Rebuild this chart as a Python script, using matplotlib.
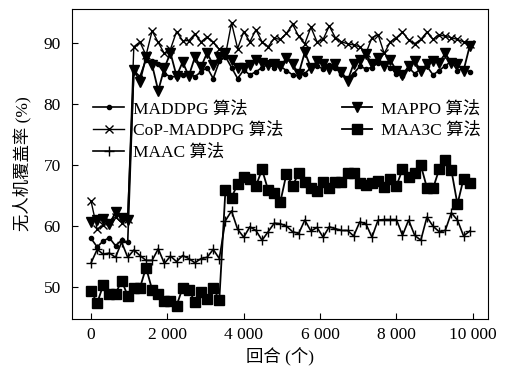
import numpy as np
import matplotlib
matplotlib.use('Agg')
import matplotlib.pyplot as plt

plt.rcParams['font.family'] = ['Liberation Serif', 'Noto Sans CJK SC']
plt.rcParams['font.size'] = 12.5

# episodes (one point every 160)
episodes = np.arange(0, 10000, 160)

maddpg = [58.0, 56.6, 57.6, 58.1, 56.8, 57.7, 57.4,
          85.5, 84.5, 87.3, 87.0, 86.5, 85.0, 84.5, 84.5, 84.8, 85.0, 84.5, 85.3,
          86.0, 84.2, 87.0, 87.8, 86.0, 84.2, 85.6, 84.8, 85.3, 86.0, 86.5, 86.0, 86.2,
          85.5, 84.8, 84.6, 85.0, 86.0, 86.2, 85.8, 86.4, 86.0, 85.0, 84.2, 85.0,
          86.2, 85.8, 86.0, 86.8, 86.5, 86.0, 85.0, 84.6, 86.0, 85.0, 85.8, 86.2,
          84.8, 85.5, 86.3, 87.0, 85.5, 85.8, 85.3]

cop_maddpg = [64.1, 59.5, 60.2, 60.8, 61.5, 60.6, 61.2,
              89.4, 90.2, 88.0, 92.0, 90.1, 88.3, 89.0, 91.9, 90.4, 90.4, 91.5, 90.2,
              91.0, 90.1, 89.0, 88.0, 93.3, 89.1, 91.9, 90.2, 92.2, 90.2, 89.4, 90.8, 90.6,
              91.6, 93.1, 91.1, 89.9, 92.6, 90.2, 90.6, 92.8, 90.9, 90.2, 89.9, 89.7,
              89.4, 88.3, 90.9, 91.4, 88.3, 90.2, 90.9, 91.8, 90.5, 89.9, 90.6, 91.8,
              90.6, 91.4, 91.1, 90.9, 90.6, 90.2, 89.9]

maac = [54.0, 56.2, 55.4, 55.6, 54.9, 57.4, 54.9, 56.1, 55.2, 54.4, 54.4, 56.3,
        53.9, 55.1, 54.2, 55.2, 54.7, 54.0, 54.7, 54.9, 56.2, 54.7,
        60.9, 62.5, 59.5, 58.2, 59.9, 59.3, 57.7, 59.1, 60.5, 60.4,
        60.0, 59.1, 58.8, 61.0, 59.2, 59.8, 58.2, 59.9, 59.6, 59.3, 59.3, 58.4,
        60.7, 60.4, 58.2, 61.0, 61.1, 61.1, 61.1, 58.5, 61.0, 58.5, 57.7, 61.5,
        60.0, 59.1, 59.3, 62.2, 61.0, 58.4, 59.2]

mappo = [60.7, 61.0, 61.2, 60.3, 62.3, 61.3, 61.0,
         85.6, 83.7, 87.7, 86.4, 82.2, 85.9, 88.4, 84.6, 86.9, 84.6, 87.7, 86.1,
         88.4, 86.4, 87.7, 88.3, 87.2, 86.0, 86.0, 86.4, 87.2, 86.8, 86.4, 86.6, 86.2,
         87.5, 86.5, 85.0, 88.5, 86.0, 87.0, 86.6, 85.8, 86.6, 85.2, 83.8, 86.6,
         87.2, 88.2, 86.6, 87.6, 86.2, 87.2, 85.5, 84.8, 86.2, 87.0, 85.5, 86.5,
         87.0, 86.8, 88.3, 86.8, 86.5, 85.5, 89.5]

maa3c = [49.4, 47.4, 50.4, 48.9, 48.9, 51.1, 48.6, 49.9, 49.9, 53.2, 49.6, 48.9,
         47.8, 47.8, 47.0, 49.9, 49.6, 47.6, 49.2, 48.1, 49.9, 47.9,
         65.9, 64.7, 66.9, 68.0, 67.7, 66.6, 69.3, 65.9, 65.5, 64.0,
         68.6, 66.6, 68.7, 67.3, 66.2, 65.8, 67.2, 66.2, 67.3, 67.3, 68.7, 68.7,
         67.1, 66.8, 67.1, 67.4, 66.4, 67.7, 66.6, 69.3, 68.1, 68.7, 70.0, 66.3,
         66.2, 69.3, 70.9, 69.2, 63.6, 67.8, 67.1]

fig = plt.figure(figsize=(5.07, 3.72), dpi=100)
ax = fig.add_axes([0.142, 0.1425, 0.8205, 0.8335])

ax.plot(episodes, maddpg, 'k-', marker='o', markersize=3, lw=1.2, label='MADDPG 算法')
ax.plot(episodes, cop_maddpg, 'k-', marker='x', markersize=6, lw=1.0, label='CoP-MADDPG 算法')
ax.plot(episodes, maac, 'k-', marker='+', markersize=7, lw=1.2, label='MAAC 算法')
ax.plot(episodes, mappo, 'k-', marker='v', markersize=7.5, lw=1.3, label='MAPPO 算法')
ax.plot(episodes, maa3c, 'k-', marker='s', markersize=7.5, lw=1.3, label='MAA3C 算法')

ax.set_xlim(-500, 10400)
ax.set_ylim(44.8, 95.6)
ax.set_xticks([0, 2000, 4000, 6000, 8000, 10000])
ax.set_xticklabels(['0', '2 000', '4 000', '6 000', '8 000', '10 000'])
ax.set_yticks([50, 60, 70, 80, 90])
ax.tick_params(direction='in', length=4, top=False, right=False)
ax.tick_params(axis='y', pad=8)
ax.tick_params(axis='x', pad=6)
ax.set_xlabel('回合 (个)', labelpad=3)
ax.set_ylabel('无人机覆盖率 (%)', labelpad=9)

ax.legend(ncol=2, frameon=False, loc='upper left', bbox_to_anchor=(0.035, 0.725),
          handlelength=1.75, handletextpad=0.5, columnspacing=3.4, labelspacing=0.3,
          borderaxespad=0)

fig.savefig('out.png', dpi=100)
